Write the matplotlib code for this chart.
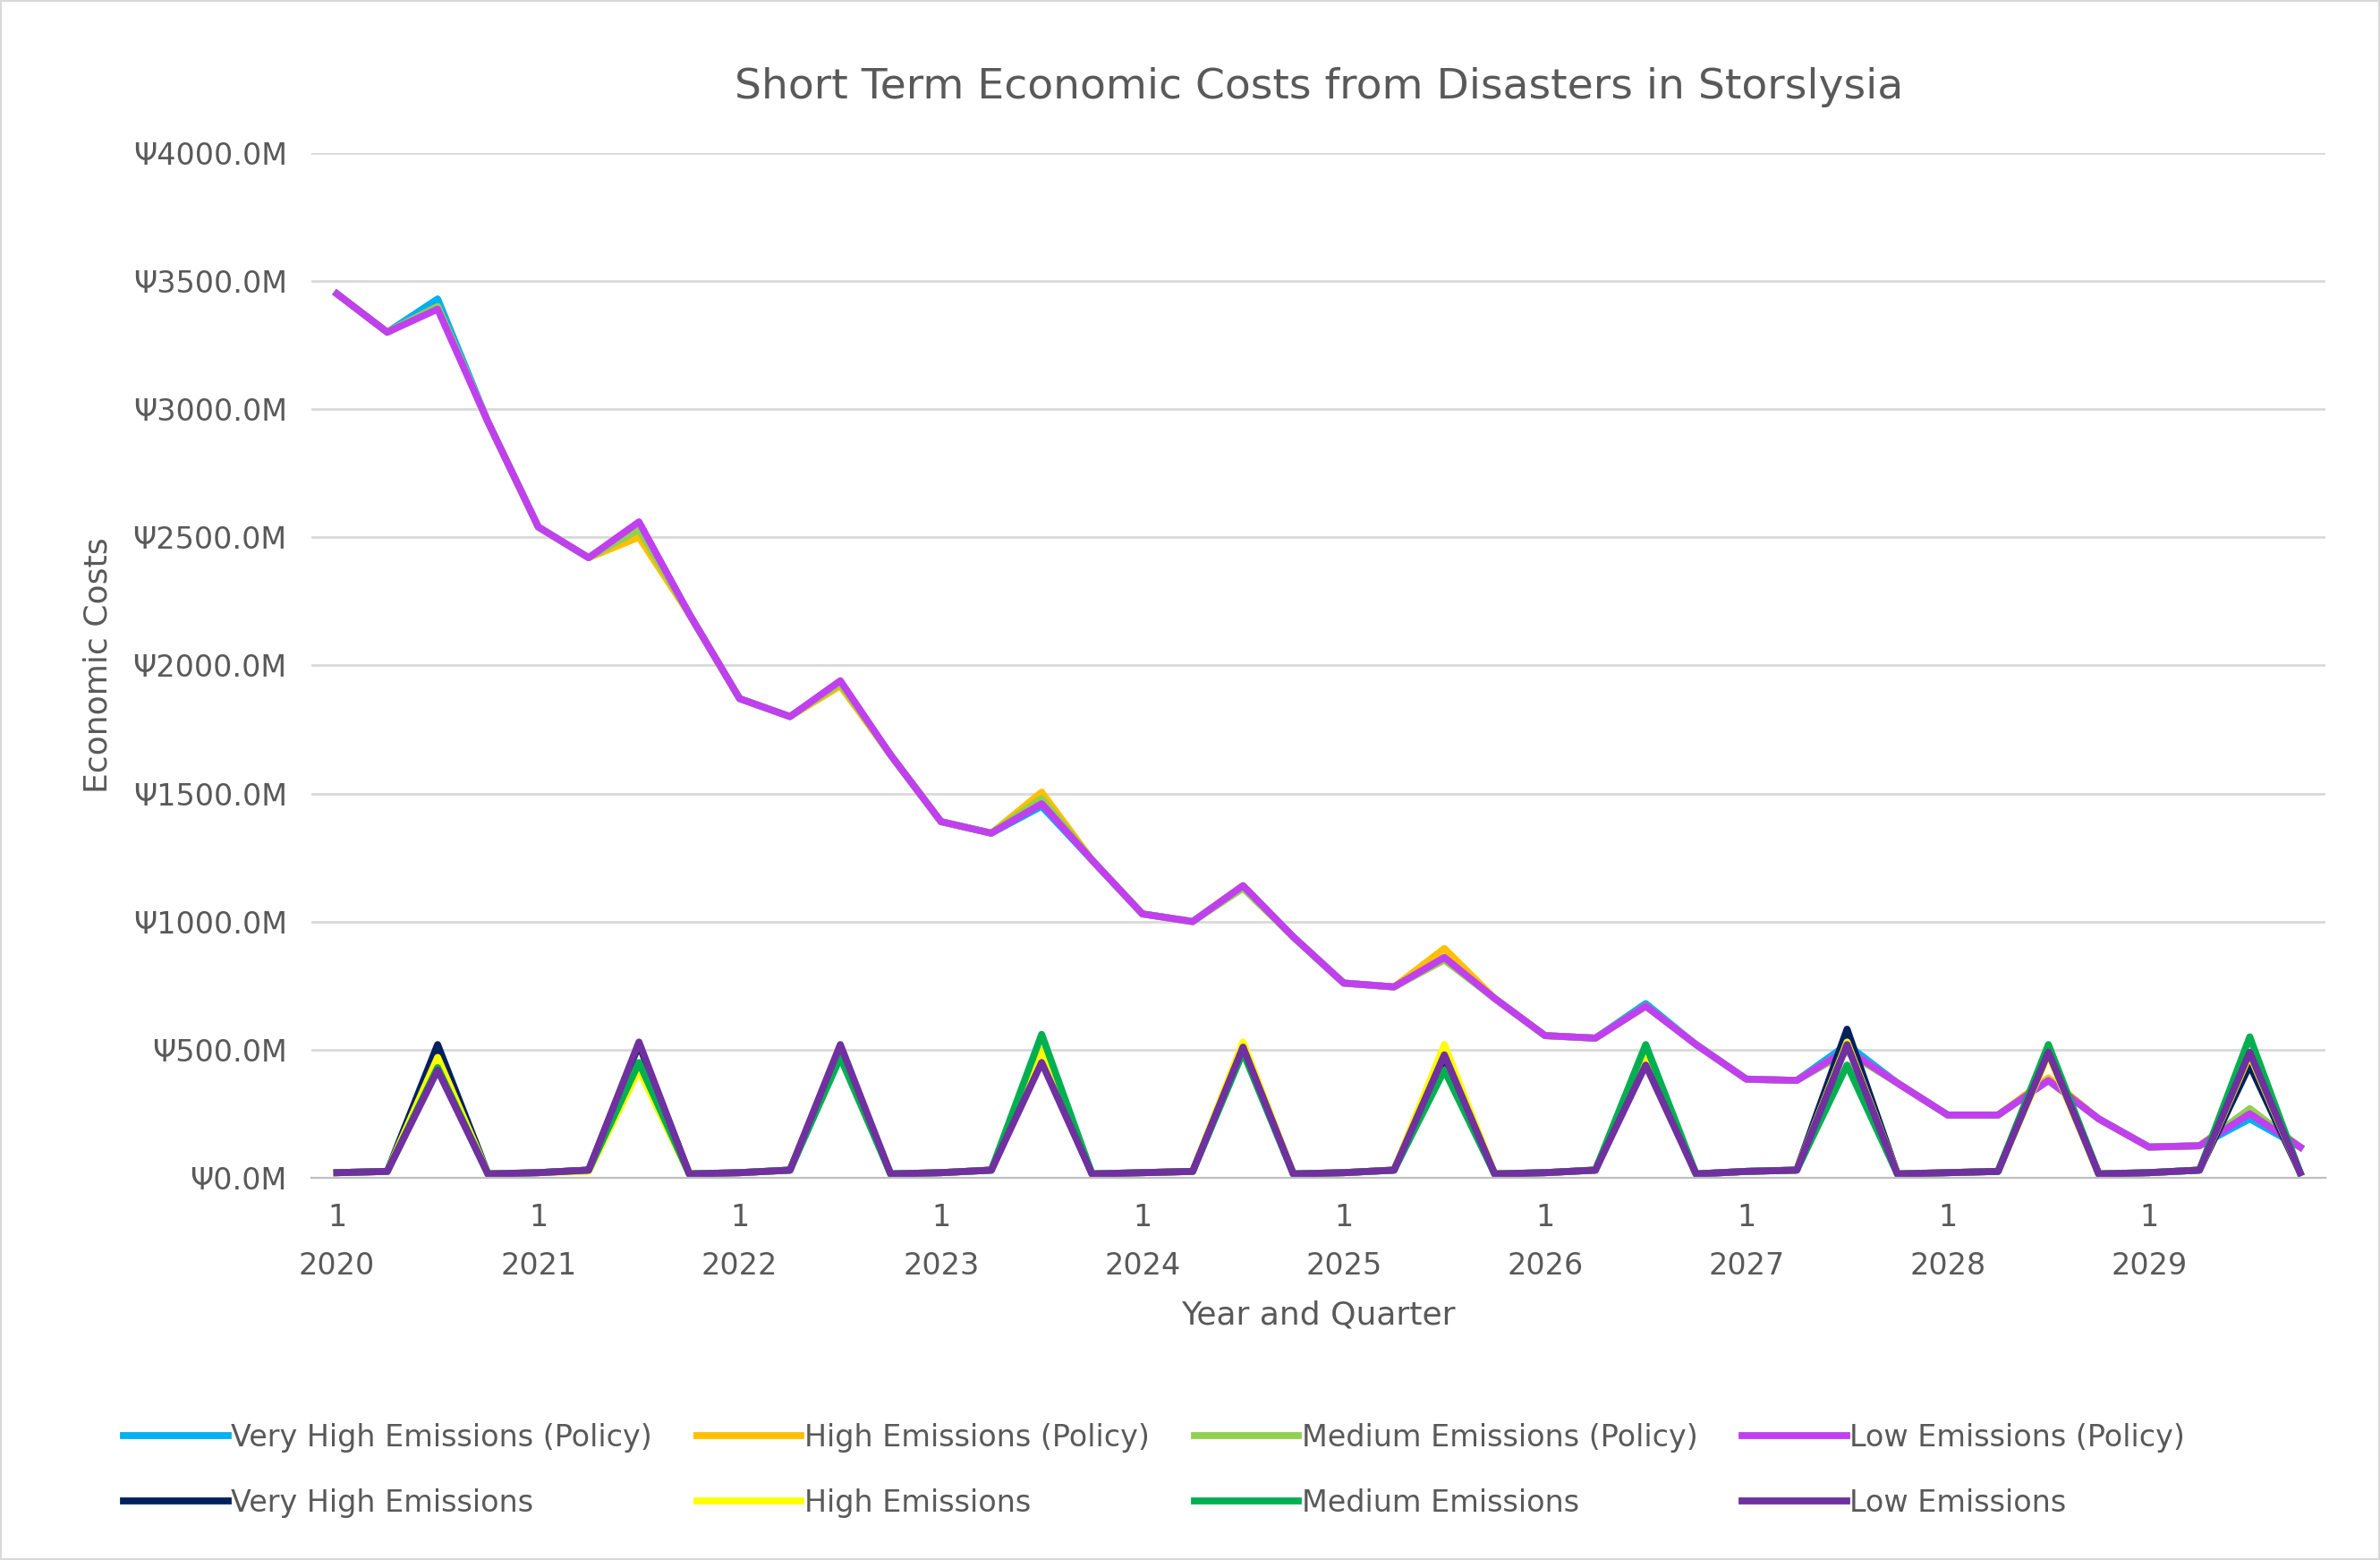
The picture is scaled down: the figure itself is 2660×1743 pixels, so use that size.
import matplotlib.pyplot as plt

years = list(range(2020, 2030))

# policy scenarios (quarterly, 2020 Q1 .. 2029 Q4)
vh_policy = [3450, 3300, 3430, 2950, 2540, 2420, 2550, 2200, 1870, 1800, 1930, 1650,
             1390, 1345, 1450, 1240, 1030, 1000, 1140, 940, 760, 745, 860, 700,
             555, 545, 680, 520, 385, 380, 520, 370, 245, 245, 380, 230, 120, 125, 230, 120]
h_policy = [3450, 3300, 3400, 2950, 2540, 2420, 2500, 2200, 1870, 1800, 1920, 1650,
            1390, 1345, 1505, 1240, 1030, 1000, 1140, 940, 760, 745, 895, 700,
            555, 545, 670, 520, 385, 380, 500, 370, 245, 245, 390, 230, 120, 125, 260, 120]
m_policy = [3450, 3300, 3400, 2950, 2540, 2420, 2530, 2200, 1870, 1800, 1930, 1650,
            1390, 1345, 1480, 1240, 1030, 1000, 1130, 940, 760, 745, 850, 700,
            555, 545, 670, 520, 385, 380, 490, 370, 245, 245, 380, 230, 120, 125, 270, 120]
l_policy = [3450, 3300, 3390, 2950, 2540, 2420, 2560, 2200, 1870, 1800, 1940, 1650,
            1390, 1345, 1460, 1240, 1030, 1000, 1140, 940, 760, 745, 860, 700,
            555, 545, 670, 520, 385, 380, 500, 370, 245, 245, 380, 230, 120, 125, 250, 120]

# no-policy scenarios
vh = [20, 25, 520, 15, 20, 30, 520, 15, 20, 30, 500, 15, 20, 30, 470, 15, 20, 25, 500, 15,
      20, 30, 470, 15, 20, 30, 460, 15, 25, 30, 580, 15, 20, 25, 500, 15, 20, 30, 440, 20]
hi = [20, 25, 470, 15, 20, 25, 420, 15, 20, 30, 500, 15, 20, 30, 500, 15, 20, 25, 530, 15,
      20, 30, 520, 15, 20, 30, 480, 15, 25, 30, 530, 15, 20, 25, 480, 15, 20, 30, 480, 20]
med = [20, 25, 430, 15, 20, 30, 450, 15, 20, 30, 470, 15, 20, 30, 560, 15, 20, 25, 490, 15,
       20, 30, 420, 15, 20, 30, 520, 15, 25, 30, 440, 15, 20, 25, 520, 15, 20, 30, 550, 20]
low = [20, 25, 420, 15, 20, 30, 530, 15, 20, 30, 520, 15, 20, 30, 450, 15, 20, 25, 510, 15,
       20, 30, 480, 15, 20, 30, 440, 15, 25, 30, 520, 15, 20, 25, 490, 15, 20, 30, 490, 20]

series = [
    ("Very High Emissions (Policy)", vh_policy, "#00B0F0"),
    ("High Emissions (Policy)", h_policy, "#FFC000"),
    ("Medium Emissions (Policy)", m_policy, "#92D050"),
    ("Low Emissions (Policy)", l_policy, "#C040F0"),
    ("Very High Emissions", vh, "#002060"),
    ("High Emissions", hi, "#FFFF00"),
    ("Medium Emissions", med, "#00B050"),
    ("Low Emissions", low, "#7030A0"),
]

grey = "#595959"
fig = plt.figure(figsize=(13.3, 8.715), dpi=200)
ax = fig.add_axes([0.131, 0.245, 0.846, 0.657])
x = list(range(40))
lines = []
for name, vals, col in series:
    ln, = ax.plot(x, vals, color=col, lw=2.8, label=name)
    lines.append(ln)

ax.set_xlim(-0.5, 39.5)
ax.set_ylim(0, 4000)
ax.set_yticks(range(0, 4001, 500))
ax.set_yticklabels([f"Ψ{v:.1f}M" for v in range(0, 4001, 500)], fontsize=12, color=grey)
ax.set_xticks(range(0, 40, 4))
ax.set_xticklabels([f"1\n{y}" for y in years], fontsize=12, color=grey, linespacing=1.8)
ax.tick_params(length=0, pad=10)
ax.grid(axis="y", color="#D9D9D9", lw=1)
ax.set_axisbelow(True)
for s in ["top", "right", "left"]:
    ax.spines[s].set_visible(False)
ax.spines["bottom"].set_color("#BFBFBF")

ax.set_title("Short Term Economic Costs from Disasters in Storslysia", fontsize=17, color=grey, pad=22)
ax.set_xlabel("Year and Quarter", fontsize=13, color=grey, labelpad=8)
ax.set_ylabel("Economic Costs", fontsize=13, color=grey, labelpad=8)

# legend filled row by row: interleave so column-major layout reads across
order = [0, 4, 1, 5, 2, 6, 3, 7]
leg = fig.legend([lines[i] for i in order], [series[i][0] for i in order],
                 loc="lower center", bbox_to_anchor=(0.485, 0.01), ncol=4, frameon=False,
                 fontsize=12, handlelength=3.5, handletextpad=0.1, columnspacing=1.5,
                 labelspacing=1.2)
for t in leg.get_texts():
    t.set_color(grey)
fig.patches.append(plt.Rectangle((0, 0), 1, 1, transform=fig.transFigure, fill=False,
                                 edgecolor="#D9D9D9", lw=1.5))
fig.savefig("out.png", dpi=200)
